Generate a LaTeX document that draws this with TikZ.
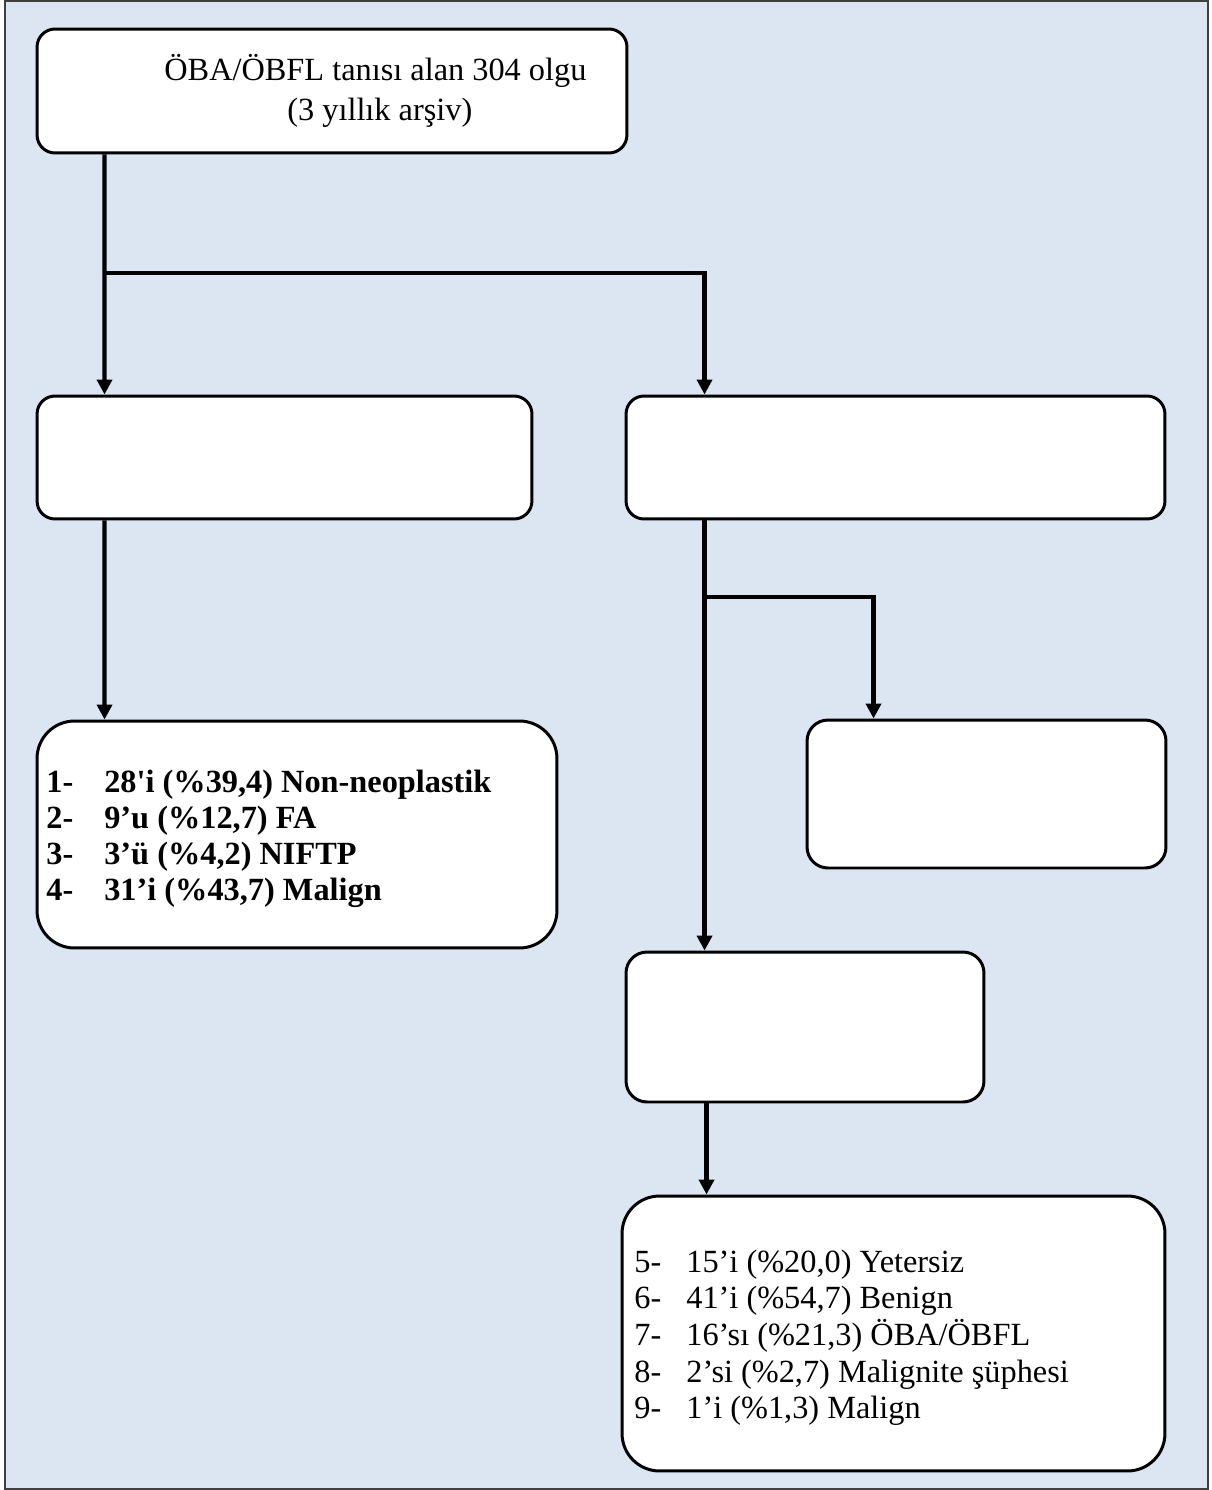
\documentclass[tikz,border=0pt]{standalone}
\usepackage{fontspec}
\setmainfont{Liberation Serif}
\usetikzlibrary{arrows.meta,positioning}
\definecolor{panelblue}{RGB}{220,230,242}

\begin{document}
\begin{tikzpicture}[x=0.02cm, y=-0.02cm]
  % ---- Page and panel -----------------------------------------
  \useasboundingbox (0,0) rectangle (1212,1490);
  \fill[white] (0,0) rectangle (1212,1490);
  \draw[fill=panelblue, draw=black!75, line width=1.1pt]
    (5,1) rectangle (1208,1489);

  % ---- Styles -------------------------------------------------
  \tikzstyle{box}=[draw, fill=white, line width=1.7pt,
                   rounded corners=0.36cm, inner sep=0pt]
  \tikzstyle{bigbox}=[box, rounded corners=0.75cm]
  \tikzstyle{trunk}=[line width=2.4pt]
  \tikzstyle{link}=[trunk, -{Triangle[width=0.3cm, length=0.3cm]}]
  \tikzstyle{txt}=[anchor=base west, inner sep=0pt,
                   font=\fontsize{18.4}{21}\selectfont]

  % ---- Boxes (centre at pixel position) -----------------------
  \node[box, minimum width=11.8cm, minimum height=2.48cm]
    (top) at (332,91) {};
  \node[box, minimum width=9.9cm, minimum height=2.46cm]
    (leftA) at (284.5,457.5) {};
  \node[box, minimum width=10.78cm, minimum height=2.46cm]
    (rightA) at (895.5,457.5) {};
  \node[bigbox, minimum width=10.4cm, minimum height=4.54cm]
    (leftB) at (297,834.5) {};
  \node[box, rounded corners=0.42cm, minimum width=7.18cm, minimum height=2.96cm]
    (rightB) at (986.5,794) {};
  \node[box, rounded corners=0.42cm, minimum width=7.16cm, minimum height=3.0cm]
    (rightC) at (805,1027) {};
  \node[bigbox, minimum width=10.86cm, minimum height=5.5cm]
    (rightD) at (893.5,1333.5) {};

  % ---- Title --------------------------------------------------
  \node[txt] (title)    at (164,81)  {ÖBA/ÖBFL tanısı alan 304 olgu};
  \node[txt] (subtitle) at (287,121) {(3 yıllık arşiv)};

  % ---- Left list (bold) ---------------------------------------
  \node[txt, font=\fontsize{18.4}{21}\selectfont\bfseries] (item1) at (46,792)
    {\makebox[1.16cm][l]{1-}28\textquotesingle i (\%39,4) Non-neoplastik};
  \node[txt, font=\fontsize{18.4}{21}\selectfont\bfseries] (item2) at (46,828)
    {\makebox[1.16cm][l]{2-}9’u (\%12,7) FA};
  \node[txt, font=\fontsize{18.4}{21}\selectfont\bfseries] (item3) at (46,864)
    {\makebox[1.16cm][l]{3-}3’ü (\%4,2) NIFTP};
  \node[txt, font=\fontsize{18.4}{21}\selectfont\bfseries] (item4) at (46,900)
    {\makebox[1.16cm][l]{4-}31’i (\%43,7) Malign};

  % ---- Right list ---------------------------------------------
  \node[txt] (item5) at (634,1272) {\makebox[1.04cm][l]{5-}15’i (\%20,0) Yetersiz};
  \node[txt] (item6) at (634,1308) {\makebox[1.04cm][l]{6-}41’i (\%54,7) Benign};
  \node[txt] (item7) at (634,1345) {\makebox[1.04cm][l]{7-}16’sı (\%21,3) ÖBA/ÖBFL};
  \node[txt] (item8) at (634,1382) {\makebox[1.04cm][l]{8-}2’si (\%2,7) Malignite şüphesi};
  \node[txt] (item9) at (634,1418) {\makebox[1.04cm][l]{9-}1’i (\%1,3) Malign};

  % ---- Connectors ---------------------------------------------
  \coordinate (splitA) at (106,273);
  \coordinate (splitB) at (706,597);
  \coordinate (rOut)   at ([xshift=1.6cm]rightA.south west);
  \coordinate (cOut)   at ([xshift=1.64cm]rightC.south west);

  \draw[link] ([xshift=1.38cm]top.south west) -- ([xshift=1.38cm]leftA.north west);
  \draw[link] (splitA) -| ([xshift=1.6cm]rightA.north west);
  \draw[link] ([xshift=1.38cm]leftA.south west) -- ([xshift=1.38cm]leftB.north west);
  \draw[link] (rOut) -- (rOut |- rightC.north);
  \draw[link] (splitB) -| ([xshift=1.36cm]rightB.north west);
  \draw[link] (cOut) -- (cOut |- rightD.north);

\end{tikzpicture}
\end{document}
